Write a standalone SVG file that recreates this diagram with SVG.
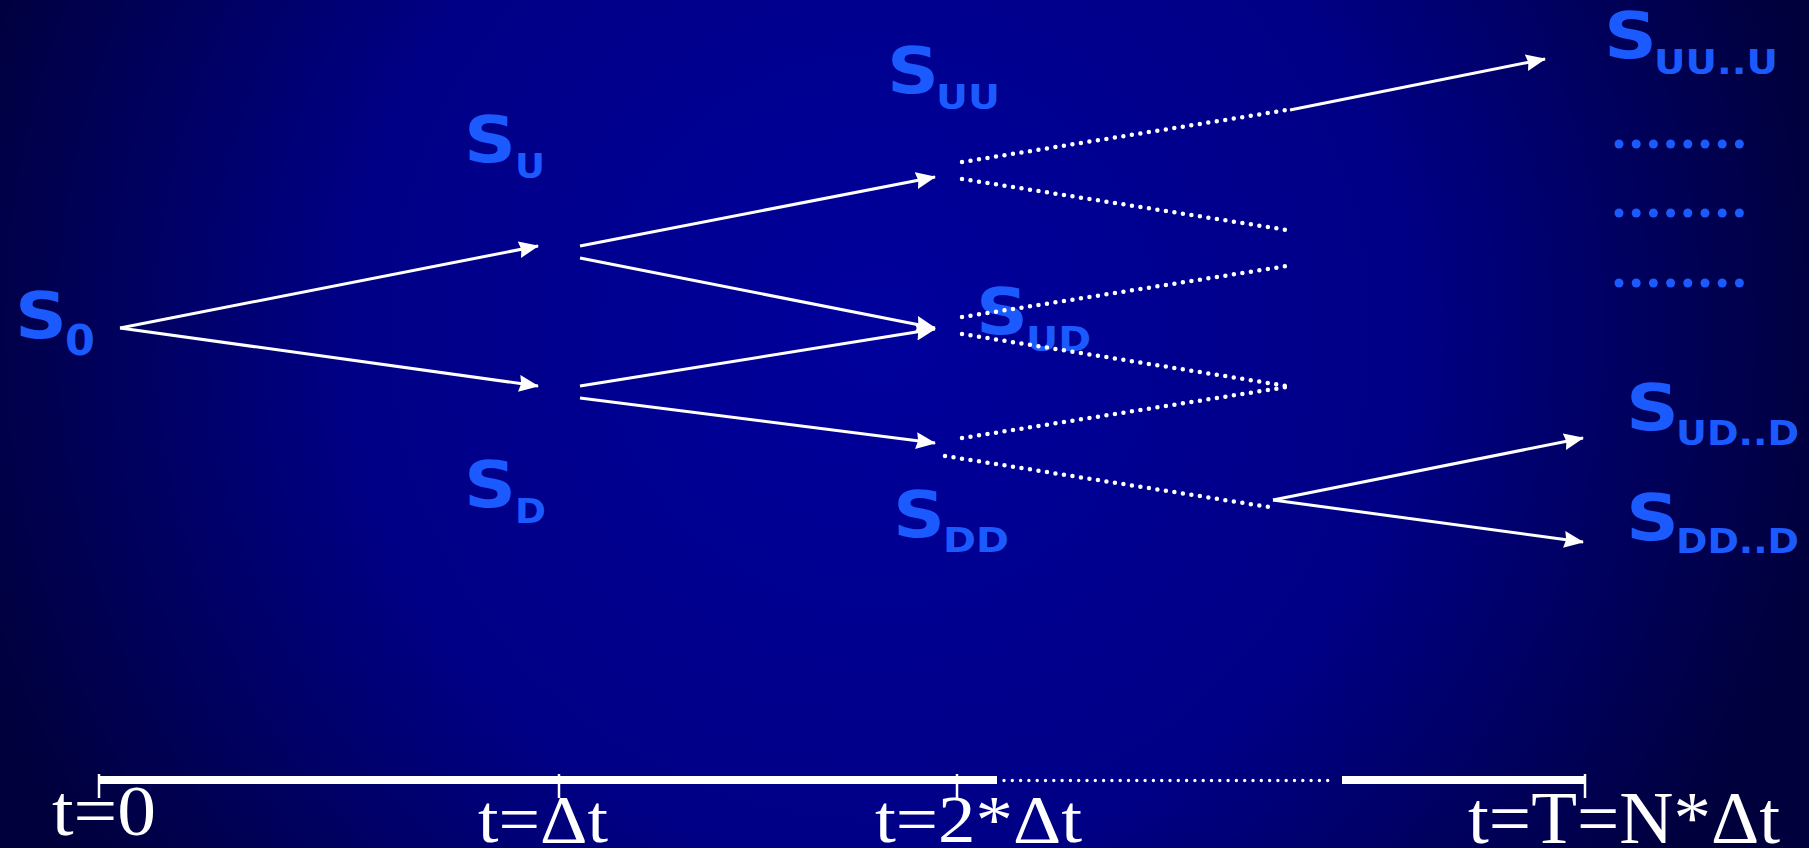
<svg xmlns="http://www.w3.org/2000/svg" width="1809" height="848" viewBox="0 0 1809 848">
<defs>
<radialGradient id="bg" gradientUnits="userSpaceOnUse" cx="880" cy="330" r="960">
<stop offset="0" stop-color="#00009c"/>
<stop offset="0.55" stop-color="#000086"/>
<stop offset="1" stop-color="#00003c"/>
</radialGradient>
<marker id="ah" markerUnits="userSpaceOnUse" markerWidth="22" markerHeight="18" refX="19" refY="8.5" orient="auto">
<path d="M0,0 L20,8.5 L0,17 L2,8.5 Z" fill="#fff"/>
</marker>
<style>
.s{font-family:"DejaVu Sans","Liberation Sans",sans-serif;font-weight:bold;fill:#1a5aff;font-size:64px}
.sub{font-family:"DejaVu Sans","Liberation Sans",sans-serif;font-weight:bold;fill:#1a5aff;font-size:34px}
.ln{stroke:#fff;stroke-width:3;fill:none}
.dot{stroke:#fff;stroke-width:4.5;stroke-linecap:round;stroke-dasharray:0 8.6;fill:none}
.tl{font-family:"Liberation Serif","Times New Roman",serif;fill:#fff}
.bd{fill:#1a5aff}
</style>
</defs>
<rect width="1809" height="848" fill="url(#bg)"/>

<g id="n-S0"><text class="s" x="15" y="338" textLength="52" lengthAdjust="spacingAndGlyphs">S</text><text class="sub" x="65" y="355" style="font-size:43px">0</text></g>
<g id="n-SU"><text class="s" x="464" y="162" textLength="52" lengthAdjust="spacingAndGlyphs">S</text><text class="sub" x="515" y="178" textLength="30" lengthAdjust="spacingAndGlyphs">U</text></g>
<g id="n-SD"><text class="s" x="464" y="507" textLength="52" lengthAdjust="spacingAndGlyphs">S</text><text class="sub" x="515" y="523" textLength="31" lengthAdjust="spacingAndGlyphs">D</text></g>
<g id="n-SUU"><text class="s" x="887" y="93" textLength="52" lengthAdjust="spacingAndGlyphs">S</text><text class="sub" x="936" y="109" textLength="64" lengthAdjust="spacingAndGlyphs">UU</text></g>
<g id="n-SUD"><text class="s" x="976" y="334" textLength="52" lengthAdjust="spacingAndGlyphs">S</text><text class="sub" x="1026" y="351" textLength="65" lengthAdjust="spacingAndGlyphs">UD</text></g>
<g id="n-SDD"><text class="s" x="893" y="537" textLength="52" lengthAdjust="spacingAndGlyphs">S</text><text class="sub" x="943" y="552" textLength="66" lengthAdjust="spacingAndGlyphs">DD</text></g>
<g id="n-SUUU"><text class="s" x="1604" y="58" textLength="53" lengthAdjust="spacingAndGlyphs">S</text><text class="sub" x="1654" y="74" textLength="124" lengthAdjust="spacingAndGlyphs">UU..U</text></g>
<g id="n-SUDD"><text class="s" x="1626" y="430" textLength="53" lengthAdjust="spacingAndGlyphs">S</text><text class="sub" x="1676" y="445" textLength="123" lengthAdjust="spacingAndGlyphs">UD..D</text></g>
<g id="n-SDDD"><text class="s" x="1626" y="540" textLength="53" lengthAdjust="spacingAndGlyphs">S</text><text class="sub" x="1676" y="553" textLength="123" lengthAdjust="spacingAndGlyphs">DD..D</text></g>

<g id="n-dots">
<g class="bd">
<circle cx="1619" cy="144" r="4.5"/><circle cx="1636.2" cy="144" r="4.5"/><circle cx="1653.4" cy="144" r="4.5"/><circle cx="1670.6" cy="144" r="4.5"/><circle cx="1687.8" cy="144" r="4.5"/><circle cx="1705" cy="144" r="4.5"/><circle cx="1722.2" cy="144" r="4.5"/><circle cx="1739.4" cy="144" r="4.5"/>
<circle cx="1619" cy="213" r="4.5"/><circle cx="1636.2" cy="213" r="4.5"/><circle cx="1653.4" cy="213" r="4.5"/><circle cx="1670.6" cy="213" r="4.5"/><circle cx="1687.8" cy="213" r="4.5"/><circle cx="1705" cy="213" r="4.5"/><circle cx="1722.2" cy="213" r="4.5"/><circle cx="1739.4" cy="213" r="4.5"/>
<circle cx="1619" cy="283" r="4.5"/><circle cx="1636.2" cy="283" r="4.5"/><circle cx="1653.4" cy="283" r="4.5"/><circle cx="1670.6" cy="283" r="4.5"/><circle cx="1687.8" cy="283" r="4.5"/><circle cx="1705" cy="283" r="4.5"/><circle cx="1722.2" cy="283" r="4.5"/><circle cx="1739.4" cy="283" r="4.5"/>
</g>
</g>

<g id="connectors">
<line class="ln" x1="120" y1="328" x2="538" y2="246" marker-end="url(#ah)"/>
<line class="ln" x1="120" y1="328" x2="538" y2="386" marker-end="url(#ah)"/>
<line class="ln" x1="580" y1="246" x2="935" y2="177" marker-end="url(#ah)"/>
<line class="ln" x1="580" y1="258" x2="935" y2="328" marker-end="url(#ah)"/>
<line class="ln" x1="580" y1="386" x2="935" y2="329" marker-end="url(#ah)"/>
<line class="ln" x1="580" y1="398" x2="935" y2="443" marker-end="url(#ah)"/>
<line class="ln" x1="1290" y1="110" x2="1545" y2="59" marker-end="url(#ah)"/>
<line class="ln" x1="1273" y1="500" x2="1583" y2="438" marker-end="url(#ah)"/>
<line class="ln" x1="1273" y1="500" x2="1583" y2="542" marker-end="url(#ah)"/>
<line class="dot" x1="962" y1="162" x2="1287" y2="110"/>
<line class="dot" x1="962" y1="179" x2="1287" y2="230"/>
<line class="dot" x1="962" y1="317" x2="1287" y2="266"/>
<line class="dot" x1="962" y1="334" x2="1287" y2="386"/>
<line class="dot" x1="962" y1="438" x2="1287" y2="387"/>
<line class="dot" x1="945" y1="456" x2="1269" y2="507"/>
</g>

<g id="axis">
<rect x="99" y="776" width="898" height="8" fill="#fff"/>
<line x1="1004" y1="780.5" x2="1336" y2="780.5" stroke="#fff" stroke-width="3.4" stroke-linecap="round" stroke-dasharray="0 8.3"/>
<rect x="1342" y="776" width="243" height="8" fill="#fff"/>
<g stroke="#fff" stroke-width="2.5">
<line x1="99" y1="774" x2="99" y2="798"/>
<line x1="559" y1="774" x2="559" y2="798"/>
<line x1="957" y1="774" x2="957" y2="798"/>
<line x1="1585" y1="774" x2="1585" y2="798"/>
</g>
<text class="tl" x="52" y="835" font-size="71" textLength="104" lengthAdjust="spacingAndGlyphs">t=0</text>
<text class="tl" x="478" y="842" font-size="68" textLength="130" lengthAdjust="spacingAndGlyphs">t=Δt</text>
<text class="tl" x="875" y="842" font-size="68" textLength="207" lengthAdjust="spacingAndGlyphs">t=2*Δt</text>
<text class="tl" x="1468" y="843" font-size="75" textLength="312" lengthAdjust="spacingAndGlyphs">t=T=N*Δt</text>
</g>
</svg>
